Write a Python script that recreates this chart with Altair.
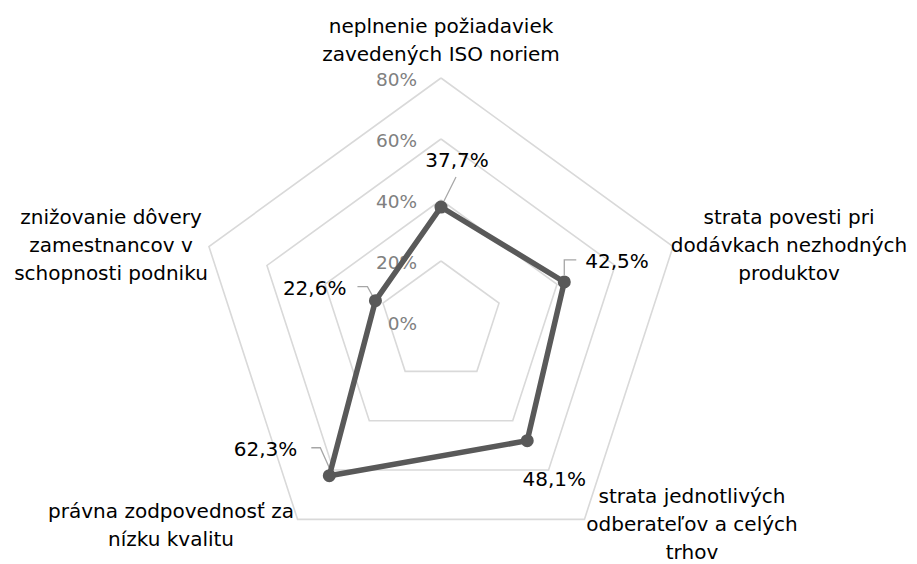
import math
import altair as alt
import pandas as pd

# ---- data ----
categories = [
    "neplnenie požiadaviek\nzavedených ISO noriem",
    "strata povesti pri\ndodávkach nezhodných\nproduktov",
    "strata jednotlivých\nodberateľov a celých\ntrhov",
    "právna zodpovednosť za\nnízku kvalitu",
    "znižovanie dôvery\nzamestnancov v\nschopnosti podniku",
]
values = [37.7, 42.5, 48.1, 62.3, 22.6]
ring_levels = [20, 40, 60, 80]
tick_labels = ["0%", "20%", "40%", "60%", "80%"]
tick_values = [0, 20, 40, 60, 80]

# ---- layout (pixels) ----
PX = 3.05                      # pixels per percentage point
ANGLES = [90, 18, -54, -126, 162]
W, H = 901, 548
CX, CY = 433, 314              # centre inside plot area
FONT = "DejaVu Sans"
FS_CAT = 20
FS_LAB = 20
FS_TICK = 18.5
LH = 28

# category label block centres relative to centre (screen px, y down)
cat_pos = [(0, -281), (348, -76), (251, 203), (-270, 204), (-330, -76)]
# data label offsets relative to point (screen px, y down) + alignment
lab_off = [(16, -46, "center"), (21, -20, "left"), (27, 39, "center"),
           (-32, -26, "right"), (-29, -12, "right")]
# leader line paths relative to point
leaders = [
    [(3, -6), (15, -30)],
    [(0, -7), (0, -22), (12, -22)],
    [],
    [(0, -8), (-9, -28), (-18, -28)],
    [(-3, -5), (-8, -14), (-18, -14)],
]


def polar(r, ang):
    a = math.radians(ang)
    return r * PX * math.cos(a), r * PX * math.sin(a)


# rings
ring_rows = []
for lv in ring_levels:
    for k in range(6):
        x, y = polar(lv, ANGLES[k % 5])
        ring_rows.append({"level": lv, "o": k, "x": x, "y": y})
rings = pd.DataFrame(ring_rows)

# series
pts = []
for k in range(6):
    i = k % 5
    x, y = polar(values[i], ANGLES[i])
    pts.append({"o": k, "x": x, "y": y, "v": values[i]})
series = pd.DataFrame(pts)
points = series.iloc[:5].copy()
points["label"] = [f"{v:.1f}%".replace(".", ",") for v in values]
points["lx"] = [points.x[i] + lab_off[i][0] for i in range(5)]
points["ly"] = [points.y[i] - lab_off[i][1] for i in range(5)]
points["al"] = [lab_off[i][2] for i in range(5)]

lead_rows = []
for i, path in enumerate(leaders):
    for k, (dx, dy) in enumerate(path):
        lead_rows.append({"id": i, "o": k, "x": points.x[i] + dx, "y": points.y[i] - dy})
lead = pd.DataFrame(lead_rows)

cats = pd.DataFrame({
    "t": categories,
    "x": [p[0] for p in cat_pos],
    # first line position so that the whole block is centred on the anchor
    "y": [-(p[1] - c.count("\n") * LH / 2) for p, c in zip(cat_pos, categories)],
})

ticks = pd.DataFrame({
    "t": tick_labels,
    "x": [-24] * 5,
    "y": [v * PX - 2 for v in tick_values],
})

xs = alt.Scale(domain=[-CX, W - CX], nice=False, zero=False)
ys = alt.Scale(domain=[-(H - CY), CY], nice=False, zero=False)
X = lambda f="x": alt.X(f"{f}:Q", scale=xs, axis=None)
Y = lambda f="y": alt.Y(f"{f}:Q", scale=ys, axis=None)

ring_layer = alt.Chart(rings).mark_line(color="#d9d9d9", strokeWidth=1.6).encode(
    x=X(), y=Y(), detail="level:N", order="o:Q")

tick_layer = alt.Chart(ticks).mark_text(
    align="right", baseline="middle", font=FONT, fontSize=FS_TICK, color="#808080"
).encode(x=X(), y=Y(), text="t:N")

lead_layer = alt.Chart(lead).mark_line(color="#a6a6a6", strokeWidth=1.3).encode(
    x=X(), y=Y(), detail="id:N", order="o:Q")

series_layer = alt.Chart(series).mark_line(color="#595959", strokeWidth=5.5).encode(
    x=X(), y=Y(), order="o:Q")

point_layer = alt.Chart(points).mark_circle(color="#595959", size=170, opacity=1).encode(
    x=X(), y=Y())

label_layers = []
for al in ["left", "center", "right"]:
    label_layers.append(
        alt.Chart(points).transform_filter(alt.datum.al == al).mark_text(
            align=al, baseline="middle", font=FONT, fontSize=FS_LAB, color="#000000"
        ).encode(x=X("lx"), y=Y("ly"), text="label:N")
    )

cat_layer = alt.Chart(cats).mark_text(
    align="center", baseline="middle", font=FONT, fontSize=FS_CAT, color="#000000",
    lineBreak="\n", lineHeight=LH
).encode(x=X(), y=Y(), text="t:N")

chart = alt.layer(
    ring_layer, tick_layer, lead_layer, series_layer, point_layer, *label_layers, cat_layer
).properties(
    width=W, height=H,
    padding={"left": 0, "top": 0, "right": 0, "bottom": 8},
    autosize=alt.AutoSizeParams(type="none"),
    background="#ffffff"
).configure_view(stroke=None)

chart.save("out.html", embed_options={"renderer": "svg", "actions": False})
